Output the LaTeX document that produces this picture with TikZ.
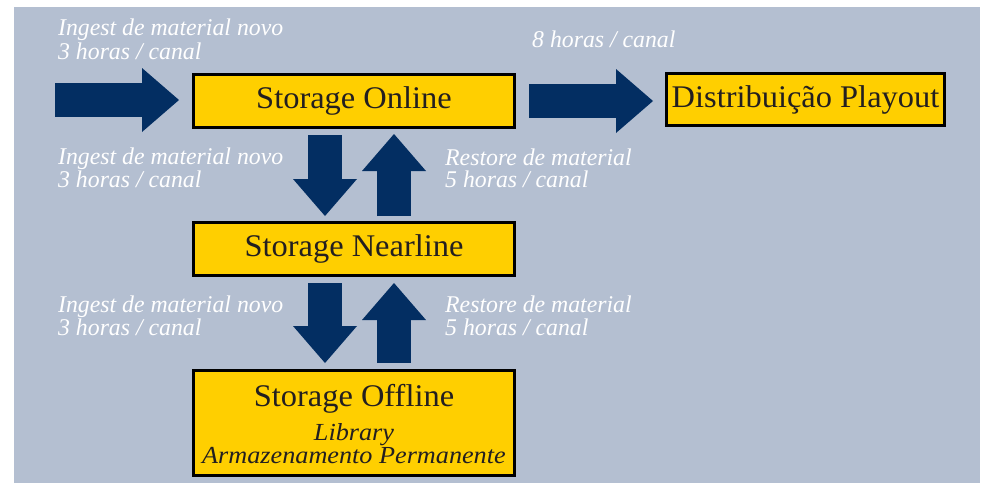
\documentclass[tikz,border=0pt]{standalone}
\usepackage{fontspec}
\setmainfont{Liberation Serif}
\newfontfamily\boxfont{Liberation Serif}[FakeStretch=1.03]
\newfontfamily\labfont{Liberation Serif}[FakeStretch=0.99]
\newfontfamily\boxitfont{Liberation Serif}[FakeStretch=1.07]
\usetikzlibrary{arrows.meta}
\definecolor{bgblue}{RGB}{180,191,209}
\definecolor{boxyellow}{RGB}{255,207,0}
\definecolor{navy}{RGB}{3,46,98}
\definecolor{boxtext}{RGB}{35,31,32}
\begin{document}
\begin{tikzpicture}[x=1pt,y=-1pt,
  storebox/.style={draw=black, line width=3pt, fill=boxyellow, minimum width=321pt, minimum height=53pt, inner sep=0pt, text=boxtext, font=\boxfont\fontsize{31.5}{31.5}\selectfont},
  lab/.style={anchor=base west, inner sep=0pt, text=white, font=\labfont\itshape\fontsize{24}{24}\selectfont},
  boxtxt/.style={anchor=base, inner sep=0pt, text=boxtext, font=\boxfont\fontsize{31.5}{31.5}\selectfont},
  boxit/.style={anchor=base, inner sep=0pt, text=boxtext, font=\boxitfont\itshape\fontsize{24.5}{24.5}\selectfont},
  bigarrow/.style={draw=navy, line width=34pt, -{Triangle[length=37pt,width=64pt,line width=0pt]}}
]
\useasboundingbox (0,0) rectangle (985,483);
\fill[bgblue] (14,7) rectangle (980,483);

% boxes
\node[storebox] (online) at (354,101) {Storage Online};
\node[storebox, minimum width=278pt, minimum height=52pt] (playout) at (805.5,99.5) {Distribuição Playout};
\node[storebox] (nearline) at (354,249) {Storage Nearline};
\node[storebox, minimum height=105pt] (offline) at (354,423) {};
\node[boxtxt] (offt1) at (354,406) {Storage Offline};
\node[boxit] (offt2) at (354,440) {Library};
\node[boxit] (offt3) at (354,463) {Armazenamento Permanente};

% arrows
\coordinate (inL) at (55,100);
\draw[bigarrow, shorten >=13pt] (inL) -- (inL -| online.west);
\draw[bigarrow, shorten <=13pt, shorten >=12pt] (online.east) -- (online.east -| playout.west);
\draw[bigarrow, shorten <=6pt, shorten >=5pt] ([xshift=-29pt]online.south) -- ([xshift=-29pt]nearline.north);
\draw[bigarrow, shorten <=5pt, shorten >=5pt] ([xshift=40pt]nearline.north) -- ([xshift=40pt]online.south);
\draw[bigarrow, shorten <=6pt, shorten >=6pt] ([xshift=-29pt]nearline.south) -- ([xshift=-29pt]offline.north);
\draw[bigarrow, shorten <=6pt, shorten >=6pt] ([xshift=40pt]offline.north) -- ([xshift=40pt]nearline.south);

% labels
\node[lab] (l1a) at (58,35) {Ingest de material novo};
\node[lab] (l1b) at (58,59) {3 horas / canal};
\node[lab] (l2) at (532,47) {8 horas / canal};
\node[lab] (l3a) at (58,164) {Ingest de material novo};
\node[lab] (l3b) at (58,187) {3 horas / canal};
\node[lab] (l4a) at (445,165) {Restore de material};
\node[lab] (l4b) at (445,187) {5 horas / canal};
\node[lab] (l5a) at (58,312) {Ingest de material novo};
\node[lab] (l5b) at (58,335) {3 horas / canal};
\node[lab] (l6a) at (445,312) {Restore de material};
\node[lab] (l6b) at (445,335) {5 horas / canal};
\end{tikzpicture}
\end{document}
